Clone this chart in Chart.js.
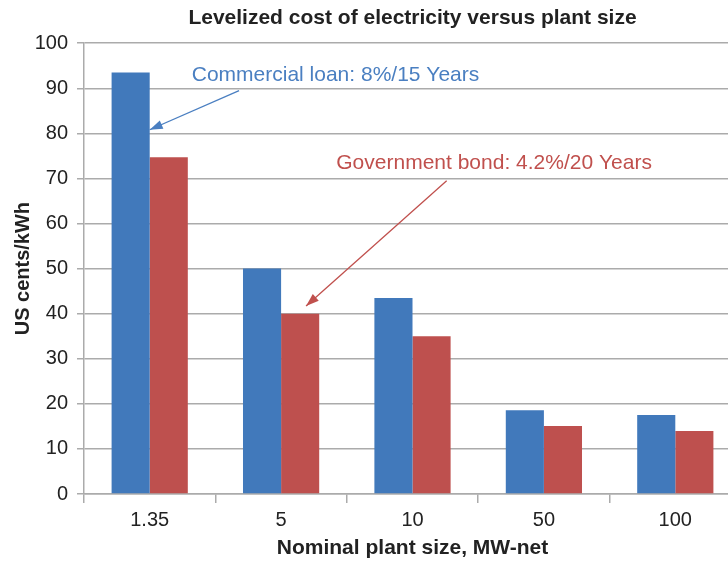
<!DOCTYPE html>
<html>
<head>
<meta charset="utf-8">
<script src="https://cdn.jsdelivr.net/npm/chart.js@4"></script>
<style>
  html, body { margin: 0; padding: 0; background: #fff; overflow: hidden; }
  #wrap { position: relative; width: 741px; height: 561px; }
</style>
</head>
<body>
<div id="wrap"><canvas id="chart"></canvas></div>
<script>
// Plant sizes (MW-net) on the x axis
const plantSizes = ['1.35', '5', '10', '50', '100'];
// Levelized cost, US cents/kWh
const commercialLoan = [93.5, 50.0, 43.5, 18.6, 17.5];
const governmentBond = [74.7, 40.0, 35.0, 15.1, 14.0];
const seriesNames = ['Commercial loan: 8%/15 Years', 'Government bond: 4.2%/20 Years'];

const BLUE = '#4179BB';
const RED = '#BE504E';
const GRID = '#ABABAB';
const FONT = '"Liberation Sans", Arial, sans-serif';

// Callout labels with arrows, placed in data space (category index, value)
const callouts = [
  { text: seriesNames[0], color: '#4A7FC1', textAt: [0.32, 93.0], from: [0.68, 89.5], to: [0.0, 80.8] },
  { text: seriesNames[1], color: '#C0504D', textAt: [1.42, 73.3], from: [2.26, 69.5], to: [1.19, 41.7] }
];

const calloutPlugin = {
  id: 'callouts',
  afterDatasetsDraw(chart) {
    const { ctx, scales: { x, y } } = chart;
    ctx.save();
    callouts.forEach(c => {
      const x1 = x.getPixelForValue(c.from[0]), y1 = y.getPixelForValue(c.from[1]);
      const x2 = x.getPixelForValue(c.to[0]), y2 = y.getPixelForValue(c.to[1]);
      ctx.strokeStyle = c.color;
      ctx.fillStyle = c.color;
      ctx.lineWidth = 1.3;
      ctx.beginPath();
      ctx.moveTo(x1, y1);
      ctx.lineTo(x2, y2);
      ctx.stroke();
      // arrow head
      const ang = Math.atan2(y2 - y1, x2 - x1);
      const len = 13, half = 4.5;
      const bx = x2 - len * Math.cos(ang), by = y2 - len * Math.sin(ang);
      ctx.beginPath();
      ctx.moveTo(x2, y2);
      ctx.lineTo(bx + half * Math.sin(ang), by - half * Math.cos(ang));
      ctx.lineTo(bx - half * Math.sin(ang), by + half * Math.cos(ang));
      ctx.closePath();
      ctx.fill();
      // label
      ctx.font = '21px ' + FONT;
      ctx.textAlign = 'left';
      ctx.textBaseline = 'middle';
      ctx.fillText(c.text, x.getPixelForValue(c.textAt[0]), y.getPixelForValue(c.textAt[1]));
    });
    ctx.restore();
  }
};

new Chart(document.getElementById('chart'), {
  type: 'bar',
  data: {
    labels: plantSizes,
    datasets: [
      { label: seriesNames[0], data: commercialLoan, backgroundColor: BLUE, borderWidth: 0 },
      { label: seriesNames[1], data: governmentBond, backgroundColor: RED, borderWidth: 0 }
    ]
  },
  options: {
    responsive: true,
    maintainAspectRatio: false,
    animation: false,
    devicePixelRatio: 1,
    layout: { padding: { left: 0, right: 0, top: 0, bottom: 0 } },
    datasets: { bar: { categoryPercentage: 0.58, barPercentage: 1.0 } },
    plugins: {
      legend: { display: false },
      tooltip: { enabled: false },
      title: {
        display: true,
        fullSize: false,
        text: 'Levelized cost of electricity versus plant size',
        color: '#222',
        font: { family: FONT, size: 21, weight: 'bold' },
        padding: { top: 6, bottom: 12 }
      }
    },
    scales: {
      x: {
        grid: {
          offset: true,
          drawOnChartArea: false,
          drawTicks: true,
          tickLength: 9,
          color: GRID,
          lineWidth: 1.5
        },
        border: { display: true, color: GRID, width: 1.5 },
        ticks: {
          color: '#222',
          padding: 5,
          font: { family: FONT, size: 20 }
        },
        title: {
          display: true,
          text: 'Nominal plant size, MW-net',
          color: '#222',
          font: { family: FONT, size: 21, weight: 'bold' },
          padding: { top: -1, bottom: 0 }
        },
        afterFit(scale) { scale.height = 67; }
      },
      y: {
        min: 0,
        max: 100,
        ticks: {
          stepSize: 10,
          color: '#222',
          padding: 9,
          font: { family: FONT, size: 20 }
        },
        grid: {
          color: GRID,
          lineWidth: 1.5,
          drawTicks: true,
          tickLength: 7
        },
        border: { display: true, color: GRID, width: 1.5 },
        title: {
          display: true,
          text: 'US cents/kWh',
          color: '#222',
          font: { family: FONT, size: 20, weight: 'bold' },
          padding: { top: 11, bottom: 0 }
        },
        afterFit(scale) { scale.width = 84; }
      }
    }
  },
  plugins: [calloutPlugin]
});
</script>
</body>
</html>
